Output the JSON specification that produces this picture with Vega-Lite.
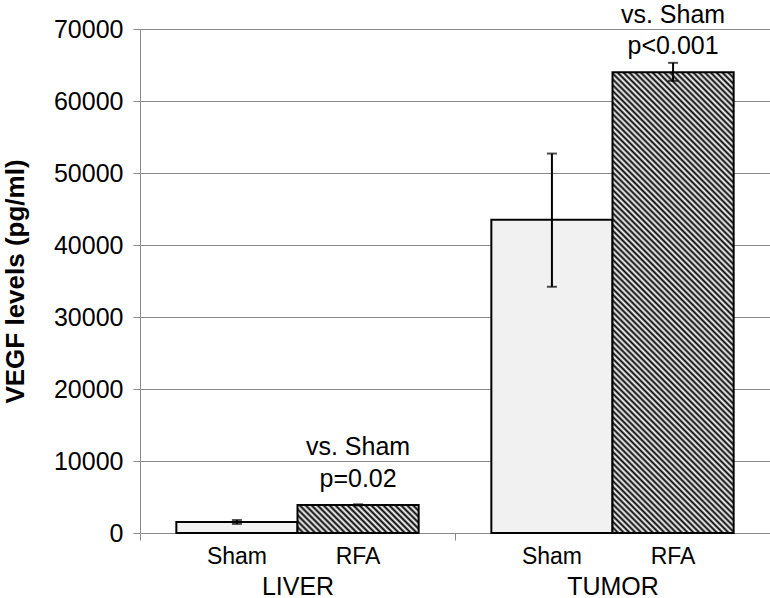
{
  "$schema": "https://vega.github.io/schema/vega-lite/v6.json",
  "width": 630,
  "height": 504,
  "autosize": {"type": "none"},
  "padding": {"left": 140, "top": 29, "right": 0, "bottom": 65},
  "background": "white",
  "config": {
    "view": {"stroke": null},
    "font": "Liberation Sans"
  },
  "data": {
    "values": [
      {"group": "LIVER", "treatment": "Sham", "value": 1530, "lo": 1260, "hi": 1800, "note1": "", "note2": ""},
      {"group": "LIVER", "treatment": "RFA", "value": 3900, "lo": 3820, "hi": 3980, "note1": "vs. Sham", "note2": "p=0.02"},
      {"group": "TUMOR", "treatment": "Sham", "value": 43500, "lo": 34200, "hi": 52700, "note1": "", "note2": ""},
      {"group": "TUMOR", "treatment": "RFA", "value": 64000, "lo": 62800, "hi": 65300, "note1": "vs. Sham", "note2": "p<0.001"}
    ]
  },
  "encoding": {
    "x": {
      "field": "group",
      "type": "nominal",
      "scale": {"domain": ["LIVER", "TUMOR"], "paddingInner": 0, "paddingOuter": 0},
      "axis": {
        "title": null,
        "labelAngle": 0,
        "labelFontSize": 25,
        "labelColor": "black",
        "labelPadding": 54,
        "labelBaseline": "alphabetic",
        "tickBand": "extent",
        "tickSize": 7,
        "tickColor": "#8a8a8a",
        "domainColor": "#8a8a8a",
        "grid": false
      }
    },
    "xOffset": {
      "field": "treatment",
      "type": "nominal",
      "scale": {"domain": ["Sham", "RFA"], "paddingInner": 0, "paddingOuter": 0.3}
    }
  },
  "layer": [
    {
      "transform": [{"filter": "datum.treatment === 'Sham'"}],
      "mark": {"type": "bar", "fill": "#f1f1f1", "stroke": "black", "strokeWidth": 2},
      "encoding": {
        "y": {
          "field": "value",
          "type": "quantitative",
          "scale": {"domain": [0, 70000], "nice": false},
          "axis": {
            "values": [0, 10000, 20000, 30000, 40000, 50000, 60000, 70000],
            "format": "d",
            "grid": true,
            "gridColor": "#8a8a8a",
            "gridWidth": 1,
            "domainColor": "#8a8a8a",
            "tickColor": "#8a8a8a",
            "tickSize": 7,
            "labelFontSize": 25,
            "labelColor": "black",
            "labelPadding": 10,
            "title": "VEGF levels (pg/ml)",
            "titleFontSize": 26,
            "titleFontWeight": "bold",
            "titleColor": "black",
            "titlePadding": 25
          }
        }
      }
    },
    {
      "transform": [{"filter": "datum.group === 'LIVER' && datum.treatment === 'RFA'"}],
      "mark": {
        "type": "bar",
        "stroke": "black",
        "strokeWidth": 2,
        "fill": {
          "gradient": "linear",
          "x1": 0, "y1": 1, "x2": 1.169, "y2": 0.729,
          "stops": [
            {"offset": 0, "color": "#000"}, {"offset": 0.02, "color": "#fff"},
            {"offset": 0.04, "color": "#000"}, {"offset": 0.06, "color": "#fff"},
            {"offset": 0.08, "color": "#000"}, {"offset": 0.1, "color": "#fff"},
            {"offset": 0.12, "color": "#000"}, {"offset": 0.14, "color": "#fff"},
            {"offset": 0.16, "color": "#000"}, {"offset": 0.18, "color": "#fff"},
            {"offset": 0.2, "color": "#000"}, {"offset": 0.22, "color": "#fff"},
            {"offset": 0.24, "color": "#000"}, {"offset": 0.26, "color": "#fff"},
            {"offset": 0.28, "color": "#000"}, {"offset": 0.3, "color": "#fff"},
            {"offset": 0.32, "color": "#000"}, {"offset": 0.34, "color": "#fff"},
            {"offset": 0.36, "color": "#000"}, {"offset": 0.38, "color": "#fff"},
            {"offset": 0.4, "color": "#000"}, {"offset": 0.42, "color": "#fff"},
            {"offset": 0.44, "color": "#000"}, {"offset": 0.46, "color": "#fff"},
            {"offset": 0.48, "color": "#000"}, {"offset": 0.5, "color": "#fff"},
            {"offset": 0.52, "color": "#000"}, {"offset": 0.54, "color": "#fff"},
            {"offset": 0.56, "color": "#000"}, {"offset": 0.58, "color": "#fff"},
            {"offset": 0.6, "color": "#000"}, {"offset": 0.62, "color": "#fff"},
            {"offset": 0.64, "color": "#000"}, {"offset": 0.66, "color": "#fff"},
            {"offset": 0.68, "color": "#000"}, {"offset": 0.7, "color": "#fff"},
            {"offset": 0.72, "color": "#000"}, {"offset": 0.74, "color": "#fff"},
            {"offset": 0.76, "color": "#000"}, {"offset": 0.78, "color": "#fff"},
            {"offset": 0.8, "color": "#000"}, {"offset": 0.82, "color": "#fff"},
            {"offset": 0.84, "color": "#000"}, {"offset": 0.86, "color": "#fff"},
            {"offset": 0.88, "color": "#000"}, {"offset": 0.9, "color": "#fff"},
            {"offset": 0.92, "color": "#000"}, {"offset": 0.94, "color": "#fff"},
            {"offset": 0.96, "color": "#000"}, {"offset": 0.98, "color": "#fff"},
            {"offset": 1, "color": "#000"}
          ]
        }
      },
      "encoding": {"y": {"field": "value", "type": "quantitative"}}
    },
    {
      "transform": [{"filter": "datum.group === 'TUMOR' && datum.treatment === 'RFA'"}],
      "mark": {
        "type": "bar",
        "stroke": "black",
        "strokeWidth": 2,
        "fill": {
          "gradient": "linear",
          "x1": 0, "y1": 1, "x2": 0.3107, "y2": -0.1813,
          "stops": [
            {"offset": 0, "color": "#000"}, {"offset": 0.005, "color": "#fff"},
            {"offset": 0.01, "color": "#000"}, {"offset": 0.015, "color": "#fff"},
            {"offset": 0.02, "color": "#000"}, {"offset": 0.025, "color": "#fff"},
            {"offset": 0.03, "color": "#000"}, {"offset": 0.035, "color": "#fff"},
            {"offset": 0.04, "color": "#000"}, {"offset": 0.045, "color": "#fff"},
            {"offset": 0.05, "color": "#000"}, {"offset": 0.055, "color": "#fff"},
            {"offset": 0.06, "color": "#000"}, {"offset": 0.065, "color": "#fff"},
            {"offset": 0.07, "color": "#000"}, {"offset": 0.075, "color": "#fff"},
            {"offset": 0.08, "color": "#000"}, {"offset": 0.085, "color": "#fff"},
            {"offset": 0.09, "color": "#000"}, {"offset": 0.095, "color": "#fff"},
            {"offset": 0.1, "color": "#000"}, {"offset": 0.105, "color": "#fff"},
            {"offset": 0.11, "color": "#000"}, {"offset": 0.115, "color": "#fff"},
            {"offset": 0.12, "color": "#000"}, {"offset": 0.125, "color": "#fff"},
            {"offset": 0.13, "color": "#000"}, {"offset": 0.135, "color": "#fff"},
            {"offset": 0.14, "color": "#000"}, {"offset": 0.145, "color": "#fff"},
            {"offset": 0.15, "color": "#000"}, {"offset": 0.155, "color": "#fff"},
            {"offset": 0.16, "color": "#000"}, {"offset": 0.165, "color": "#fff"},
            {"offset": 0.17, "color": "#000"}, {"offset": 0.175, "color": "#fff"},
            {"offset": 0.18, "color": "#000"}, {"offset": 0.185, "color": "#fff"},
            {"offset": 0.19, "color": "#000"}, {"offset": 0.195, "color": "#fff"},
            {"offset": 0.2, "color": "#000"}, {"offset": 0.205, "color": "#fff"},
            {"offset": 0.21, "color": "#000"}, {"offset": 0.215, "color": "#fff"},
            {"offset": 0.22, "color": "#000"}, {"offset": 0.225, "color": "#fff"},
            {"offset": 0.23, "color": "#000"}, {"offset": 0.235, "color": "#fff"},
            {"offset": 0.24, "color": "#000"}, {"offset": 0.245, "color": "#fff"},
            {"offset": 0.25, "color": "#000"}, {"offset": 0.255, "color": "#fff"},
            {"offset": 0.26, "color": "#000"}, {"offset": 0.265, "color": "#fff"},
            {"offset": 0.27, "color": "#000"}, {"offset": 0.275, "color": "#fff"},
            {"offset": 0.28, "color": "#000"}, {"offset": 0.285, "color": "#fff"},
            {"offset": 0.29, "color": "#000"}, {"offset": 0.295, "color": "#fff"},
            {"offset": 0.3, "color": "#000"}, {"offset": 0.305, "color": "#fff"},
            {"offset": 0.31, "color": "#000"}, {"offset": 0.315, "color": "#fff"},
            {"offset": 0.32, "color": "#000"}, {"offset": 0.325, "color": "#fff"},
            {"offset": 0.33, "color": "#000"}, {"offset": 0.335, "color": "#fff"},
            {"offset": 0.34, "color": "#000"}, {"offset": 0.345, "color": "#fff"},
            {"offset": 0.35, "color": "#000"}, {"offset": 0.355, "color": "#fff"},
            {"offset": 0.36, "color": "#000"}, {"offset": 0.365, "color": "#fff"},
            {"offset": 0.37, "color": "#000"}, {"offset": 0.375, "color": "#fff"},
            {"offset": 0.38, "color": "#000"}, {"offset": 0.385, "color": "#fff"},
            {"offset": 0.39, "color": "#000"}, {"offset": 0.395, "color": "#fff"},
            {"offset": 0.4, "color": "#000"}, {"offset": 0.405, "color": "#fff"},
            {"offset": 0.41, "color": "#000"}, {"offset": 0.415, "color": "#fff"},
            {"offset": 0.42, "color": "#000"}, {"offset": 0.425, "color": "#fff"},
            {"offset": 0.43, "color": "#000"}, {"offset": 0.435, "color": "#fff"},
            {"offset": 0.44, "color": "#000"}, {"offset": 0.445, "color": "#fff"},
            {"offset": 0.45, "color": "#000"}, {"offset": 0.455, "color": "#fff"},
            {"offset": 0.46, "color": "#000"}, {"offset": 0.465, "color": "#fff"},
            {"offset": 0.47, "color": "#000"}, {"offset": 0.475, "color": "#fff"},
            {"offset": 0.48, "color": "#000"}, {"offset": 0.485, "color": "#fff"},
            {"offset": 0.49, "color": "#000"}, {"offset": 0.495, "color": "#fff"},
            {"offset": 0.5, "color": "#000"}, {"offset": 0.505, "color": "#fff"},
            {"offset": 0.51, "color": "#000"}, {"offset": 0.515, "color": "#fff"},
            {"offset": 0.52, "color": "#000"}, {"offset": 0.525, "color": "#fff"},
            {"offset": 0.53, "color": "#000"}, {"offset": 0.535, "color": "#fff"},
            {"offset": 0.54, "color": "#000"}, {"offset": 0.545, "color": "#fff"},
            {"offset": 0.55, "color": "#000"}, {"offset": 0.555, "color": "#fff"},
            {"offset": 0.56, "color": "#000"}, {"offset": 0.565, "color": "#fff"},
            {"offset": 0.57, "color": "#000"}, {"offset": 0.575, "color": "#fff"},
            {"offset": 0.58, "color": "#000"}, {"offset": 0.585, "color": "#fff"},
            {"offset": 0.59, "color": "#000"}, {"offset": 0.595, "color": "#fff"},
            {"offset": 0.6, "color": "#000"}, {"offset": 0.605, "color": "#fff"},
            {"offset": 0.61, "color": "#000"}, {"offset": 0.615, "color": "#fff"},
            {"offset": 0.62, "color": "#000"}, {"offset": 0.625, "color": "#fff"},
            {"offset": 0.63, "color": "#000"}, {"offset": 0.635, "color": "#fff"},
            {"offset": 0.64, "color": "#000"}, {"offset": 0.645, "color": "#fff"},
            {"offset": 0.65, "color": "#000"}, {"offset": 0.655, "color": "#fff"},
            {"offset": 0.66, "color": "#000"}, {"offset": 0.665, "color": "#fff"},
            {"offset": 0.67, "color": "#000"}, {"offset": 0.675, "color": "#fff"},
            {"offset": 0.68, "color": "#000"}, {"offset": 0.685, "color": "#fff"},
            {"offset": 0.69, "color": "#000"}, {"offset": 0.695, "color": "#fff"},
            {"offset": 0.7, "color": "#000"}, {"offset": 0.705, "color": "#fff"},
            {"offset": 0.71, "color": "#000"}, {"offset": 0.715, "color": "#fff"},
            {"offset": 0.72, "color": "#000"}, {"offset": 0.725, "color": "#fff"},
            {"offset": 0.73, "color": "#000"}, {"offset": 0.735, "color": "#fff"},
            {"offset": 0.74, "color": "#000"}, {"offset": 0.745, "color": "#fff"},
            {"offset": 0.75, "color": "#000"}, {"offset": 0.755, "color": "#fff"},
            {"offset": 0.76, "color": "#000"}, {"offset": 0.765, "color": "#fff"},
            {"offset": 0.77, "color": "#000"}, {"offset": 0.775, "color": "#fff"},
            {"offset": 0.78, "color": "#000"}, {"offset": 0.785, "color": "#fff"},
            {"offset": 0.79, "color": "#000"}, {"offset": 0.795, "color": "#fff"},
            {"offset": 0.8, "color": "#000"}, {"offset": 0.805, "color": "#fff"},
            {"offset": 0.81, "color": "#000"}, {"offset": 0.815, "color": "#fff"},
            {"offset": 0.82, "color": "#000"}, {"offset": 0.825, "color": "#fff"},
            {"offset": 0.83, "color": "#000"}, {"offset": 0.835, "color": "#fff"},
            {"offset": 0.84, "color": "#000"}, {"offset": 0.845, "color": "#fff"},
            {"offset": 0.85, "color": "#000"}, {"offset": 0.855, "color": "#fff"},
            {"offset": 0.86, "color": "#000"}, {"offset": 0.865, "color": "#fff"},
            {"offset": 0.87, "color": "#000"}, {"offset": 0.875, "color": "#fff"},
            {"offset": 0.88, "color": "#000"}, {"offset": 0.885, "color": "#fff"},
            {"offset": 0.89, "color": "#000"}, {"offset": 0.895, "color": "#fff"},
            {"offset": 0.9, "color": "#000"}, {"offset": 0.905, "color": "#fff"},
            {"offset": 0.91, "color": "#000"}, {"offset": 0.915, "color": "#fff"},
            {"offset": 0.92, "color": "#000"}, {"offset": 0.925, "color": "#fff"},
            {"offset": 0.93, "color": "#000"}, {"offset": 0.935, "color": "#fff"},
            {"offset": 0.94, "color": "#000"}, {"offset": 0.945, "color": "#fff"},
            {"offset": 0.95, "color": "#000"}, {"offset": 0.955, "color": "#fff"},
            {"offset": 0.96, "color": "#000"}, {"offset": 0.965, "color": "#fff"},
            {"offset": 0.97, "color": "#000"}, {"offset": 0.975, "color": "#fff"},
            {"offset": 0.98, "color": "#000"}, {"offset": 0.985, "color": "#fff"},
            {"offset": 0.99, "color": "#000"}, {"offset": 0.995, "color": "#fff"},
            {"offset": 1, "color": "#000"}
          ]
        }
      },
      "encoding": {"y": {"field": "value", "type": "quantitative"}}
    },
    {
      "mark": {"type": "rule", "color": "black", "strokeWidth": 2},
      "encoding": {
        "y": {"field": "lo", "type": "quantitative"},
        "y2": {"field": "hi"}
      }
    },
    {
      "mark": {"type": "tick", "color": "black", "size": 10, "thickness": 2},
      "encoding": {"y": {"field": "hi", "type": "quantitative"}}
    },
    {
      "mark": {"type": "tick", "color": "black", "size": 10, "thickness": 2},
      "encoding": {"y": {"field": "lo", "type": "quantitative"}}
    },
    {
      "mark": {"type": "text", "fontSize": 23, "baseline": "alphabetic", "dy": 30.5, "color": "black"},
      "encoding": {
        "y": {"datum": 0, "type": "quantitative"},
        "text": {"field": "treatment"}
      }
    },
    {
      "mark": {"type": "text", "fontSize": 25, "baseline": "alphabetic", "dy": -18, "color": "black"},
      "encoding": {
        "y": {"field": "value", "type": "quantitative"},
        "text": {"field": "note2"}
      }
    },
    {
      "mark": {"type": "text", "fontSize": 25, "baseline": "alphabetic", "dy": -49.5, "color": "black"},
      "encoding": {
        "y": {"field": "value", "type": "quantitative"},
        "text": {"field": "note1"}
      }
    }
  ]
}
